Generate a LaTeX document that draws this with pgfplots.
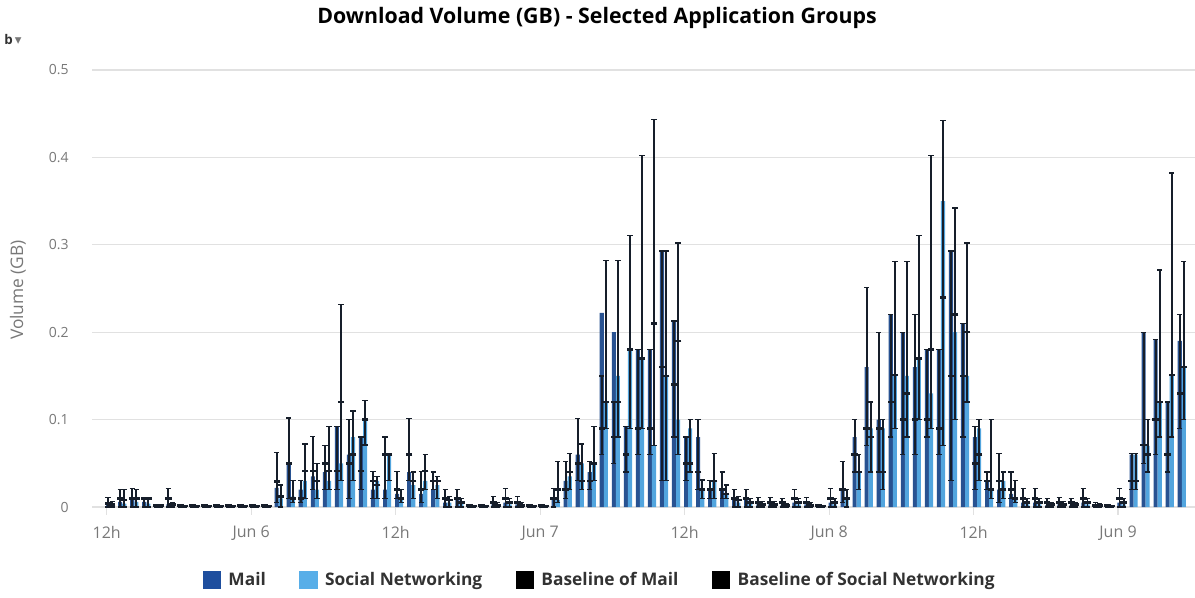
\documentclass[border=0pt]{standalone}
\usepackage{pgfplots}
\pgfplotsset{compat=1.18}
\usepackage{pgfplotstable}
\usepackage{fontspec}
\setmainfont{Open Sans}
\newfontfamily\symfont{DejaVu Sans}

\definecolor{mailc}{RGB}{30,78,158}
\definecolor{socc}{RGB}{88,174,232}
\definecolor{mailbar}{RGB}{40,82,145}
\definecolor{socbar}{RGB}{82,165,222}
\definecolor{basec}{RGB}{22,30,42}
\definecolor{tickc}{RGB}{120,120,120}
\definecolor{gridc}{RGB}{225,225,225}
\definecolor{textc}{RGB}{50,50,50}

% k = hour since Jun 5 12h; mail/soc = volume; m*/s* = baseline low, mid, high
\pgfplotstableread{
k  mail   soc    mlo   mmid  mhi   slo   smid  shi
0  0.003  0.002  0     0.004 0.011 0     0.003 0.006
1  0.006  0.004  0     0.010 0.020 0     0.008 0.020
2  0.008  0.006  0     0.010 0.021 0     0.010 0.020
3  0.006  0.004  0     0.010 0.011 0     0.010 0.011
4  0.001  0.001  0     0.002 0.003 0     0.002 0.003
5  0.003  0.001  0     0.010 0.021 0     0.003 0.005
6  0.001  0.0005 0     0.002 0.003 0     0.001 0.002
7  0.001  0.0005 0     0.002 0.003 0     0.001 0.002
8  0.001  0.0005 0     0.002 0.003 0     0.001 0.002
9  0.001  0.0005 0     0.002 0.003 0     0.001 0.002
10 0.001  0.0005 0     0.002 0.003 0     0.001 0.002
11 0.001  0.0005 0     0.002 0.003 0     0.001 0.002
12 0.001  0.0005 0     0.002 0.003 0     0.001 0.002
13 0.001  0.0005 0     0.002 0.003 0     0.001 0.002
14 0.022  0.010  0.005 0.029 0.062 0     0.012 0.025
15 0.050  0.012  0.010 0.050 0.102 0.005 0.010 0.030
16 0.020  0.030  0.005 0.010 0.030 0.010 0.041 0.072
17 0.035  0.020  0.020 0.041 0.081 0.010 0.030 0.050
18 0.040  0.030  0.020 0.050 0.070 0.020 0.041 0.092
19 0.092  0.050  0.020 0.041 0.092 0.030 0.120 0.232
20 0.060  0.080  0.010 0.050 0.100 0.030 0.060 0.110
21 0.080  0.100  0.020 0.041 0.080 0.071 0.100 0.122
22 0.020  0.030  0.010 0.030 0.041 0.010 0.025 0.035
23 0.020  0.060  0.010 0.060 0.080 0.030 0.060 0.060
24 0.015  0.010  0.010 0.020 0.041 0.005 0.010 0.020
25 0.040  0.025  0.030 0.060 0.101 0.010 0.030 0.040
26 0.015  0.030  0.005 0.020 0.041 0.020 0.041 0.060
27 0.020  0.025  0.020 0.030 0.040 0.010 0.030 0.035
28 0.005  0.005  0     0.010 0.020 0     0.008 0.012
29 0.008  0.004  0     0.010 0.020 0     0.005 0.010
30 0.001  0.0005 0     0.002 0.003 0     0.001 0.002
31 0.001  0.0005 0     0.002 0.003 0     0.001 0.002
32 0.003  0.002  0     0.005 0.012 0     0.002 0.005
33 0.005  0.003  0     0.010 0.021 0     0.005 0.010
34 0.003  0.002  0     0.005 0.012 0     0.002 0.005
35 0.001  0.0005 0     0.002 0.003 0     0.001 0.002
36 0.001  0.0005 0     0.002 0.003 0     0.001 0.002
37 0.010  0.008  0     0.010 0.021 0.005 0.020 0.052
38 0.030  0.035  0.010 0.020 0.052 0.020 0.040 0.061
39 0.060  0.050  0.030 0.050 0.101 0.020 0.030 0.072
40 0.040  0.050  0.020 0.030 0.052 0.030 0.050 0.092
41 0.222  0.120  0.060 0.090 0.150 0.090 0.120 0.282
42 0.200  0.150  0.050 0.080 0.120 0.080 0.120 0.282
43 0.092  0.180  0.040 0.060 0.092 0.090 0.180 0.311
44 0.180  0.170  0.060 0.090 0.180 0.090 0.170 0.402
45 0.180  0.070  0.060 0.090 0.180 0.070 0.210 0.443
46 0.293  0.150  0.030 0.160 0.293 0.030 0.150 0.293
47 0.213  0.100  0.080 0.140 0.213 0.060 0.190 0.302
48 0.080  0.090  0.030 0.050 0.080 0.040 0.050 0.100
49 0.080  0.020  0.020 0.040 0.100 0.010 0.020 0.031
50 0.020  0.030  0.010 0.020 0.030 0.010 0.030 0.061
51 0.020  0.015  0.010 0.020 0.040 0.010 0.015 0.025
52 0.008  0.005  0     0.010 0.020 0     0.008 0.012
53 0.008  0.005  0     0.010 0.020 0     0.005 0.010
54 0.003  0.003  0     0.005 0.011 0     0.003 0.006
55 0.003  0.003  0     0.005 0.011 0     0.003 0.006
56 0.002  0.001  0     0.005 0.010 0     0.002 0.004
57 0.005  0.003  0     0.010 0.020 0     0.005 0.010
58 0.003  0.002  0     0.005 0.011 0     0.002 0.005
59 0.001  0.0005 0     0.002 0.003 0     0.001 0.002
60 0.005  0.003  0     0.010 0.021 0     0.005 0.010
61 0.020  0.010  0.005 0.020 0.052 0     0.010 0.020
62 0.080  0.040  0.040 0.060 0.100 0.020 0.040 0.060
63 0.160  0.090  0.070 0.090 0.251 0.040 0.080 0.120
64 0.100  0.090  0.040 0.090 0.200 0.020 0.040 0.100
65 0.220  0.150  0.080 0.120 0.220 0.090 0.151 0.281
66 0.200  0.150  0.060 0.100 0.200 0.080 0.130 0.281
67 0.160  0.170  0.060 0.100 0.220 0.100 0.170 0.311
68 0.180  0.130  0.080 0.100 0.180 0.090 0.180 0.402
69 0.180  0.350  0.060 0.090 0.180 0.070 0.240 0.442
70 0.293  0.200  0.030 0.150 0.293 0.100 0.220 0.342
71 0.210  0.150  0.080 0.150 0.210 0.120 0.200 0.302
72 0.080  0.090  0.020 0.050 0.092 0.030 0.060 0.100
73 0.030  0.020  0.020 0.030 0.040 0.010 0.020 0.100
74 0.020  0.030  0.005 0.030 0.061 0.010 0.020 0.040
75 0.015  0.010  0.010 0.020 0.040 0.005 0.010 0.030
76 0.005  0.003  0     0.010 0.021 0     0.005 0.010
77 0.005  0.003  0     0.010 0.021 0     0.005 0.010
78 0.002  0.002  0     0.005 0.010 0     0.003 0.005
79 0.003  0.002  0     0.005 0.011 0     0.003 0.006
80 0.002  0.002  0     0.005 0.010 0     0.003 0.005
81 0.005  0.003  0     0.010 0.021 0     0.005 0.010
82 0.002  0.001  0     0.002 0.005 0     0.002 0.004
83 0.001  0.0005 0     0.002 0.003 0     0.001 0.002
84 0.005  0.003  0     0.010 0.021 0     0.005 0.010
85 0.060  0.060  0.020 0.030 0.061 0.020 0.030 0.061
86 0.200  0.070  0.050 0.071 0.200 0.040 0.060 0.100
87 0.192  0.120  0.060 0.100 0.192 0.080 0.120 0.271
88 0.120  0.150  0.040 0.060 0.120 0.080 0.151 0.382
89 0.190  0.160  0.090 0.130 0.220 0.100 0.160 0.281
}\data

\pgfplotsset{
  basebars/.style={only marks, mark=-, mark size=2.4pt,
    mark options={line width=1.9pt, draw=basec},
    error bars/y dir=both, error bars/y explicit,
    error bars/error bar style={line width=1.4pt, basec},
    error bars/error mark options={rotate=90, mark size=2pt, line width=1pt, basec}},
}

\begin{document}
\begin{tikzpicture}
\path[use as bounding box] (0,0) rectangle (896.25pt,447.75pt);

\begin{axis}[
  at={(69pt,67.5pt)}, anchor=south west,
  scale only axis, width=827.25pt, height=327.75pt,
  xmin=-1.22, xmax=90.39, ymin=0, ymax=0.5,
  axis x line*=bottom, axis y line*=left,
  x axis line style={draw=gridc, line width=0.9pt},
  y axis line style={draw=none},
  ymajorgrids, grid style={gridc, line width=0.9pt},
  ytick={0,0.1,...,0.5},
  y tick style={draw=none},
  x tick style={draw=gridc, line width=0.9pt},
  tick align=outside, major tick length=6pt,
  xtick={0,12,24,36,48,60,72,84},
  xticklabels={12h, Jun 6, 12h, Jun 7, 12h, Jun 8, 12h, Jun 9},
  ticklabel style={text=tickc},
  yticklabel style={font=\fontsize{10.5}{12}\selectfont, xshift=-8pt},
  xticklabel style={font=\fontsize{12}{14}\selectfont, yshift=-5pt},
  /pgf/number format/assume math mode=true,
  yticklabel={\pgfmathprintnumber[fixed,precision=1]{\tick}},
  legend columns=4,
  legend style={at={(0.4605,-0.167)}, anchor=center, draw=none, fill=none,
    font=\fontsize{13}{15}\selectfont\bfseries, text=textc,
    /tikz/every odd column/.append style={column sep=4pt},
    /tikz/every even column/.append style={column sep=23pt}},
  legend image code/.code={\fill[#1] (0pt,-6.5pt) rectangle (13pt,6.5pt);},
  clip=false,
]
\addplot[ybar, bar width=0.34, bar shift=0pt, fill=mailbar, draw=none, forget plot]
  table[x expr=\thisrow{k}+0.12, y=mail] {\data};
\addplot[ybar, bar width=0.34, bar shift=0pt, fill=socbar, draw=none, forget plot]
  table[x expr=\thisrow{k}+0.46, y=soc] {\data};
\addplot[forget plot, basebars]
  table[x expr=\thisrow{k}+0.12, y=mmid,
        y error plus expr=\thisrow{mhi}-\thisrow{mmid},
        y error minus expr=\thisrow{mmid}-\thisrow{mlo}] {\data};
\addplot[forget plot, basebars]
  table[x expr=\thisrow{k}+0.46, y=smid,
        y error plus expr=\thisrow{shi}-\thisrow{smid},
        y error minus expr=\thisrow{smid}-\thisrow{slo}] {\data};

\addlegendimage{mailc}
\addlegendentry{Mail}
\addlegendimage{socc}
\addlegendentry{Social Networking}
\addlegendimage{black}
\addlegendentry{Baseline of Mail}
\addlegendimage{black}
\addlegendentry{Baseline of Social Networking}
\end{axis}

\node[font=\fontsize{16}{19}\selectfont\bfseries, text=black] at (447.75pt,434.25pt)
  {Download Volume (GB) - Selected Application Groups};
\node[rotate=90, font=\fontsize{13}{15}\selectfont, text=tickc] at (13.5pt,230.25pt)
  {Volume (GB)};
\node[font=\fontsize{10}{12}\selectfont, text=textc, anchor=west, inner sep=0pt] at (3pt,418pt)
  {\textbf{b}\,{\symfont\color{tickc}▾}};
\end{tikzpicture}
\end{document}
